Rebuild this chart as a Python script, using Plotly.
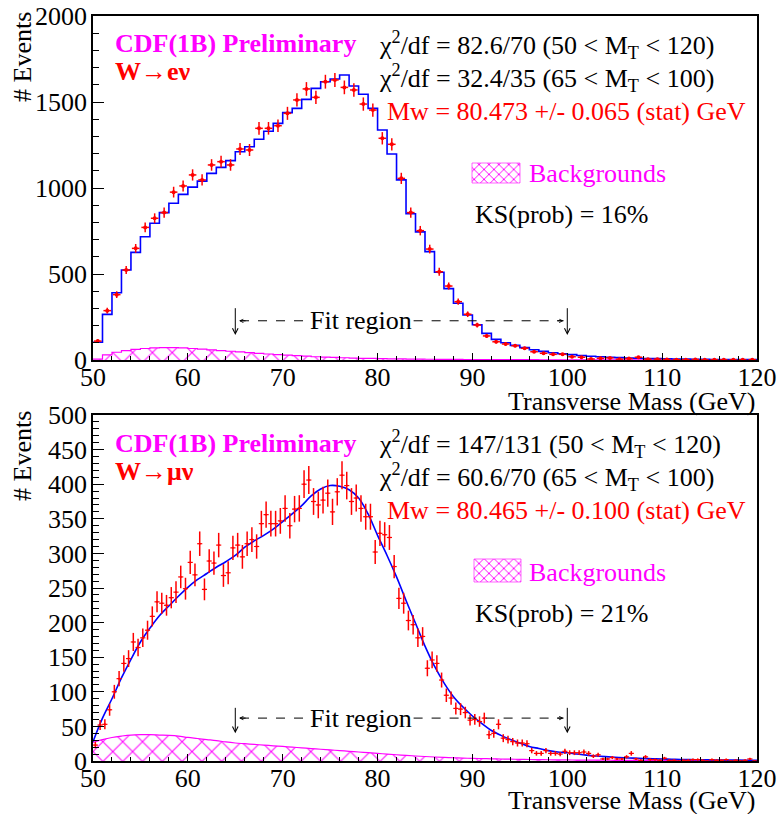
import numpy as np
import plotly.graph_objects as go

# ------------------------------------------------------------------ data
# W -> e nu : 1 GeV bins, lower edges 50..119
E_EDGES = list(range(50, 121))
E_DATA = [110, 287, 380, 523, 649, 771, 824, 857, 976, 1012,
          1076, 1047, 1134, 1153, 1134, 1227, 1221, 1347, 1347, 1362,
          1434, 1512, 1576, 1527, 1618, 1628, 1585, 1570, 1488, 1453,
          1289, 1254, 1056, 857, 752, 645, 513, 430, 339, 266,
          203, 140, 106, 93, 83, 68, 48, 39, 33, 33,
          19, 16, 6, 10, 12, 5, 8, 16, 5, 5,
          3, 2, 2, 3, 1, 2, 1, 1, 1, 2]
E_FIT = [103, 265, 391, 523, 626, 717, 795, 857, 911, 963,
         1005, 1040, 1085, 1120, 1159, 1211, 1240, 1283, 1330, 1376,
         1438, 1463, 1515, 1579, 1618, 1634, 1657, 1593, 1545, 1463,
         1337, 1198, 1047, 850, 745, 630, 510, 415, 330, 262,
         205, 155, 120, 100, 85, 72, 60, 50, 42, 36,
         31, 26, 22, 19, 16, 14, 12, 10, 9, 8,
         7, 6, 5, 4, 4, 3, 3, 3, 2, 2]
E_BKG = [5, 30, 45, 55, 62, 67, 70, 72, 72, 70,
         67, 63, 59, 55, 51, 47, 43, 39, 35, 31,
         28, 25, 22, 19, 17, 15, 13, 11, 10, 9,
         8, 7, 6, 5.5, 5, 4.5, 4, 3.6, 3.3, 3,
         2.7, 2.5, 2.3, 2.1, 1.9, 1.7, 1.6, 1.5, 1.4, 1.3,
         1.2, 1.1, 1.1, 1.0, 1.0, 0.9, 0.9, 0.8, 0.8, 0.8,
         0.7, 0.7, 0.7, 0.6, 0.6, 0.6, 0.6, 0.5, 0.5, 0.5]

# W -> mu nu : 0.5 GeV bins, centres 50.25..119.75
MU_CENTERS = np.arange(140) * 0.5 + 50.25
MU_DATA = [23, 52, 53, 74, 100, 119, 141, 148, 172, 164,
           178, 189, 209, 230, 228, 225, 236, 244, 266, 249,
           287, 269, 314, 248, 289, 286, 312, 268, 272, 308,
           312, 295, 314, 320, 310, 343, 356, 343, 343, 347,
           365, 340, 364, 365, 400, 406, 375, 370, 377, 387,
           360, 389, 413, 398, 375, 380, 365, 353, 353, 302,
           329, 327, 323, 281, 235, 228, 203, 197, 178, 180,
           134, 146, 141, 117, 95, 91, 76, 75, 70, 59,
           60, 57, 62, 38, 40, 53, 33, 31, 28, 26,
           26, 25, 15, 11, 11, 15, 11, 11, 10, 14,
           12, 12, 12, 13, 11, 7, 9, 3, 3, 5,
           3, 3, 6, 11, 3, 1, 6, 2, 2, 1,
           4, 1, 1, 0, 1, 1, 2, 2, 1, 0,
           2, 1, 1, 2, 0, 1, 0, 1, 3, 0]
MU_FIT_X = list(range(50, 121))
MU_FIT = [28, 62, 90, 120, 147, 172, 192, 210, 224, 238,
          251, 262, 271, 280, 288, 297, 309, 318, 326, 335,
          346, 357, 369, 383, 393, 398, 397, 392, 380, 357,
          326, 297, 266, 232, 199, 166, 137, 113, 93, 78,
          65, 54, 44, 37, 31, 26, 21, 18, 15, 13,
          12, 10, 8.5, 7.3, 6.3, 5.4, 4.7, 4.1, 3.6, 3.2,
          2.8, 2.5, 2.2, 2.0, 1.8, 1.6, 1.4, 1.3, 1.2, 1.1, 1.0]
MU_BKG = [27, 31, 34, 36, 37.5, 38, 38, 37.5, 37, 36,
          34, 32.5, 31, 29.5, 27.5, 26, 25, 24, 23, 22,
          21, 20, 19, 18, 17, 16, 15, 14, 13, 12,
          11, 10, 9, 8, 7.2, 6.5, 5.8, 5.2, 4.7, 4.2,
          3.8, 3.5, 3.2, 2.9, 2.6, 2.4, 2.2, 2.0, 1.8, 1.6,
          1.5, 1.4, 1.3, 1.2, 1.1, 1.0, 0.9, 0.85, 0.8, 0.75,
          0.7, 0.65, 0.6, 0.55, 0.5, 0.5, 0.45, 0.4, 0.4, 0.35, 0.3]

FIT_LO, FIT_HI = 65, 100

# ------------------------------------------------------------------ style
FONT = "Liberation Serif"
FS = 26
RED, BLUE, MAG = "#ff0000", "#0000ff", "#ff00ff"
W, H = 781, 814
L, R, T, B = 93, 24, 16, 53
PW, PH = W - L - R, H - T - B
TOP_DOM = [1 - 344 / PH, 1.0]
BOT_DOM = [0.0, 1 - 399 / PH]
HATCH = dict(shape="x", fgcolor=MAG, bgcolor="rgba(0,0,0,0)", fgopacity=1,
             size=14, solidity=0.14)


def px_x(px):
    return (px - L) / PW


def py_y(py):
    return (H - B - py) / PH


fig = go.Figure()

# ---------------- top panel: W -> e nu
fig.add_trace(go.Scatter(
    x=E_EDGES, y=E_BKG + [E_BKG[-1]], mode="lines", line=dict(color=MAG, width=1.2, shape="hv"),
    fill="tozeroy", fillcolor="rgba(0,0,0,0)", fillpattern=HATCH,
    xaxis="x", yaxis="y", showlegend=False, hoverinfo="skip"))
fig.add_trace(go.Scatter(
    x=E_EDGES, y=E_FIT + [E_FIT[-1]], mode="lines",
    line=dict(color=BLUE, width=1.6, shape="hv"),
    xaxis="x", yaxis="y", showlegend=False))
e_centers = np.array(E_EDGES[:-1]) + 0.5
fig.add_trace(go.Scatter(
    x=e_centers, y=E_DATA, mode="markers",
    marker=dict(color=RED, size=4, symbol="circle"),
    error_y=dict(type="data", array=np.sqrt(E_DATA), color=RED, thickness=1.5, width=0),
    error_x=dict(type="constant", value=0.4, color=RED, thickness=1.5, width=0),
    xaxis="x", yaxis="y", showlegend=False))

# ---------------- bottom panel: W -> mu nu
fig.add_trace(go.Scatter(
    x=MU_FIT_X, y=MU_BKG, mode="lines", line=dict(color=MAG, width=1.2, shape="spline"),
    fill="tozeroy", fillcolor="rgba(0,0,0,0)", fillpattern=HATCH,
    xaxis="x2", yaxis="y2", showlegend=False, hoverinfo="skip"))
fig.add_trace(go.Scatter(
    x=MU_FIT_X, y=MU_FIT, mode="lines", line=dict(color=BLUE, width=1.6, shape="spline"),
    xaxis="x2", yaxis="y2", showlegend=False))
fig.add_trace(go.Scatter(
    x=MU_CENTERS, y=MU_DATA, mode="markers",
    marker=dict(color=RED, size=2, symbol="circle"),
    error_y=dict(type="data", array=np.sqrt(MU_DATA), color=RED, thickness=1.5, width=0),
    error_x=dict(type="constant", value=0.27, color=RED, thickness=1.2, width=0),
    xaxis="x2", yaxis="y2", showlegend=False))


# ---------------- legend swatches (hatched key boxes)
def x_of(px):
    return 50 + (px - L) / PW * 70


def swatch(x0px, x1px, y0v, y1v, xa, ya):
    x0, x1 = x_of(x0px), x_of(x1px)
    fig.add_trace(go.Scatter(
        x=[x0, x1, x1, x0, x0], y=[y0v, y0v, y1v, y1v, y0v], mode="lines",
        line=dict(color=MAG, width=0.6), fill="toself", fillcolor="rgba(0,0,0,0)",
        fillpattern=dict(shape="x", fgcolor=MAG, bgcolor="rgba(0,0,0,0)", fgopacity=1,
                         size=7, solidity=0.25),
        xaxis=xa, yaxis=ya, showlegend=False, hoverinfo="skip"))


swatch(472, 520, (360 - 183) / 344 * 2000, (360 - 163) / 344 * 2000, "x", "y")
swatch(474, 521, (761 - 582) / 346 * 500, (761 - 559) / 346 * 500, "x2", "y2")


# ---------------- axes
def xaxis_cfg(anchor):
    return dict(range=[50, 120], tick0=50, dtick=10, ticks="inside", ticklen=7,
                tickwidth=1, tickcolor="black", showline=True, linecolor="black",
                linewidth=1.5, mirror=True, showgrid=False, zeroline=False,
                tickfont=dict(family=FONT, size=FS, color="black"),
                minor=dict(dtick=2, ticks="inside", ticklen=4, tickcolor="black", tickwidth=1),
                anchor=anchor, domain=[0, 1], ticklabelstandoff=-7, automargin=False)


def yaxis_cfg(anchor, dom, top, major, minor):
    return dict(range=[0, top], tick0=0, dtick=major, ticks="inside", ticklen=11,
                tickwidth=1, tickcolor="black", showline=True, linecolor="black",
                linewidth=1.5, mirror=True, showgrid=False, zeroline=False,
                tickfont=dict(family=FONT, size=FS, color="black"),
                minor=dict(dtick=minor, ticks="inside", ticklen=6, tickcolor="black", tickwidth=1),
                anchor=anchor, domain=dom, ticklabelstandoff=-1, automargin=False)


fig.update_layout(
    width=W, height=H, margin=dict(l=L, r=R, t=T, b=B, autoexpand=False),
    paper_bgcolor="white", plot_bgcolor="white",
    xaxis=xaxis_cfg("y"), yaxis=yaxis_cfg("x", TOP_DOM, 2000, 500, 100),
    xaxis2=xaxis_cfg("y2"), yaxis2=yaxis_cfg("x2", BOT_DOM, 500, 50, 10),
    font=dict(family=FONT, size=FS, color="black"),
)

# ---------------- text
ann = []


def text(px, py, s, color="black", anchor="left", bold=False, angle=0):
    if bold:
        s = "<b>" + s + "</b>"
    ann.append(dict(x=px_x(px), y=py_y(py), xref="paper", yref="paper", text=s,
                    showarrow=False, xanchor=anchor, yanchor="middle", textangle=angle,
                    font=dict(family=FONT, size=FS, color=color)))


panels = [
    (0, "W→eν", "82.6/70", "32.4/35", "80.473 +/- 0.065", "16%"),
    (399, "W→μν", "147/131", "60.6/70", "80.465 +/- 0.100", "21%"),
]
for dy, chan, c1, c2, mw, ks in panels:
    text(113, 44 + dy, "CDF(1B) Preliminary", MAG, bold=True)
    text(113, 72 + dy, chan, RED, bold=True)
    text(377, 45 + dy, "χ<sup>2</sup>/df = " + c1 + " (50 < M<sub>T</sub> < 120)")
    text(377, 78 + dy, "χ<sup>2</sup>/df = " + c2 + " (65 < M<sub>T</sub> < 100)")
    text(385, 111 + dy, "Mw = " + mw + " (stat) GeV", RED)
    text(527, 173 + dy, "Backgrounds", MAG)
    text(473, 214 + dy, "KS(prob) = " + ks)
    text(757, 401 + dy, "Transverse Mass (GeV)", anchor="right")
    text(22, 57 + dy, "# Events", anchor="center", angle=-90)

# ---------------- fit-region markers
shapes = []
for xa, ya, yline, ytop, ybot in [("x", "y", 228, 310, 145), ("x2", "y2", 62, 79, 40)]:
    for xv in (FIT_LO, FIT_HI):
        ann.append(dict(x=xv, y=ybot, ax=xv, ay=ytop, xref=xa, yref=ya, axref=xa, ayref=ya,
                        text="", showarrow=True, arrowhead=5, arrowsize=1.1, arrowwidth=1,
                        arrowcolor="black"))
    shapes.append(dict(type="line", xref=xa, yref=ya, x0=FIT_LO + 0.5, x1=72.6, y0=yline, y1=yline,
                       line=dict(color="black", width=1, dash="dash")))
    shapes.append(dict(type="line", xref=xa, yref=ya, x0=83.8, x1=FIT_HI - 0.4, y0=yline, y1=yline,
                       line=dict(color="black", width=1, dash="dash")))
    ann.append(dict(x=FIT_LO + 0.4, y=yline, xref=xa, yref=ya, ax=8, ay=0, text="",
                    showarrow=True, arrowhead=5, arrowsize=0.7, arrowwidth=1, arrowcolor="black"))
    ann.append(dict(x=FIT_HI - 0.4, y=yline, xref=xa, yref=ya, ax=-8, ay=0, text="",
                    showarrow=True, arrowhead=5, arrowsize=0.7, arrowwidth=1, arrowcolor="black"))
    ann.append(dict(x=78.3, y=yline, xref=xa, yref=ya, text="Fit region", showarrow=False,
                    xanchor="center", yanchor="middle",
                    font=dict(family=FONT, size=FS, color="black")))

fig.update_layout(annotations=ann, shapes=shapes)
fig.write_html("out.html")
